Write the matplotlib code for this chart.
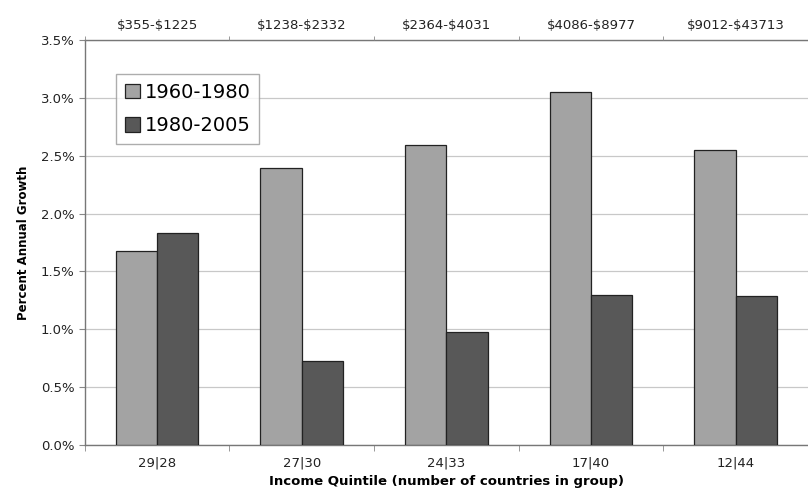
import matplotlib
matplotlib.use("Agg")
import matplotlib.pyplot as plt
import numpy as np

categories = ["29|28", "27|30", "24|33", "17|40", "12|44"]
income_ranges = ["$355-$1225", "$1238-$2332", "$2364-$4031", "$4086-$8977", "$9012-$43713"]
growth_1960_1980 = [1.68, 2.39, 2.59, 3.05, 2.55]
growth_1980_2005 = [1.83, 0.73, 0.98, 1.30, 1.29]
series_labels = ["1960-1980", "1980-2005"]
yticks = [0.0, 0.5, 1.0, 1.5, 2.0, 2.5, 3.0, 3.5]

plt.rcParams['font.family'] = ['DejaVu Sans']

fig = plt.figure(figsize=(8.08, 4.99), dpi=100)
ax = fig.add_axes([0.105, 0.108, 0.895, 0.812])

x = np.arange(len(categories))
w = 1 / 3.5
ax.bar(x - w/2, growth_1960_1980, width=w, color="#a3a3a3", edgecolor="#222222", linewidth=0.9, label=series_labels[0], zorder=3)
ax.bar(x + w/2, growth_1980_2005, width=w, color="#585858", edgecolor="#222222", linewidth=0.9, label=series_labels[1], zorder=3)

ax.set_xlim(-0.5, len(categories) - 0.5)
ax.set_ylim(0, 3.5)
ax.set_yticks(yticks)
ax.set_yticklabels([f"{v:.1f}%" for v in yticks], fontsize=9.5, color="#222222")
ax.yaxis.grid(True, color="#c8c8c8", linewidth=0.9, zorder=0)
ax.tick_params(axis='y', length=4, color="#888888")

ax.set_xticks(x)
ax.set_xticklabels(categories, fontsize=9.5, color="#222222")
ax.tick_params(axis='x', which='major', length=0, pad=8)
ax.set_xticks(np.arange(-0.5, len(categories)), minor=True)
ax.tick_params(axis='x', which='minor', length=4, color="#888888")

for s in ["left", "bottom", "top"]:
    ax.spines[s].set_color("#777777")
    ax.spines[s].set_linewidth(1.0)
ax.spines["right"].set_visible(False)

ax.set_xlabel("Income Quintile (number of countries in group)", fontsize=9.5, fontweight='bold', labelpad=4)
ax.set_ylabel("Percent Annual Growth", fontsize=8.5, fontweight='bold', labelpad=8)

top = ax.twiny()
top.set_xlim(ax.get_xlim())
top.set_xticks(x)
top.set_xticklabels([r.replace("$", r"\$") for r in income_ranges], fontsize=9.5, color="#222222")
top.tick_params(axis='x', which='major', length=0, pad=6)
top.set_xticks(np.arange(-0.5, len(categories)), minor=True)
top.tick_params(axis='x', which='minor', length=3, color="#888888")
for s in top.spines.values():
    s.set_visible(False)

leg = ax.legend(loc='upper left', bbox_to_anchor=(0.03, 0.94), fontsize=14, frameon=True,
                fancybox=False, edgecolor="#999999", handlelength=0.75, handleheight=0.75,
                handletextpad=0.25, borderpad=0.45, labelspacing=0.75)
leg.get_frame().set_linewidth(1.0)
leg.set_zorder(5)

fig.savefig("out.png", dpi=100, facecolor="white")
